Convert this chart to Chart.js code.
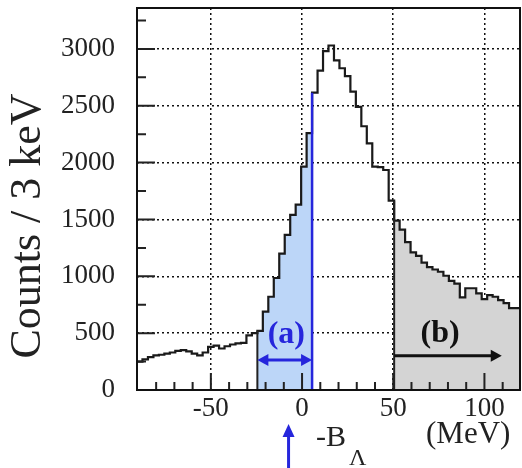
<!DOCTYPE html>
<html>
<head>
<meta charset="utf-8">
<script src="https://cdn.jsdelivr.net/npm/chart.js@4.4.0/dist/chart.umd.min.js"></script>
<style>
  html, body { margin: 0; padding: 0; background: #fff; }
  #box { width: 522px; height: 468px; }
</style>
</head>
<body>
<div id="box"><canvas id="hist" width="522" height="468"></canvas></div>
<script>
// histogram binning (MeV)
const binStart = -90.5;
const binWidth = 3;
// counts per bin
const counts = [
  250, 270, 290, 305, 310, 320, 330, 345, 350, 340,
  320, 305, 330, 380, 390, 365, 385, 400, 410, 415,
  480, 500, 520, 690, 820, 985, 1200, 1365, 1540, 1630,
  1965, 2260, 2615, 2810, 2980, 3030, 2900, 2830, 2760, 2625,
  2490, 2320, 2170, 1965, 1960, 1935, 1665, 1490, 1410, 1300,
  1210, 1180, 1120, 1080, 1060, 1040, 1005, 960, 935, 815,
  895, 895, 850, 800, 835, 820, 790, 765, 720, 720
];
const regionA = [-24.5, 5.5];   // window (a)
const regionB = [50.5, 119.5];  // window (b)
const xTicks = [-50, 0, 50, 100];
const yTicks = [0, 500, 1000, 1500, 2000, 2500, 3000];
const yMax = 3360;

const serif = 'Liberation Serif';
const blue = '#2626dc';

function binIndex(v) { return Math.round((v - binStart) / binWidth); }

// stepped points: left edge of each bin + closing right edge
function histPoints(from, to) {
  const pts = [];
  for (let i = from; i < to; i++) pts.push({ x: binStart + i * binWidth, y: counts[i] });
  pts.push({ x: binStart + to * binWidth, y: counts[to - 1] });
  return pts;
}

const aFrom = binIndex(regionA[0]), aTo = binIndex(regionA[1]);
const bFrom = binIndex(regionB[0]), bTo = binIndex(regionB[1]);

function arrow(ctx, x1, y1, x2, y2, both, color) {
  ctx.strokeStyle = color; ctx.fillStyle = color; ctx.lineWidth = 3;
  const ang = Math.atan2(y2 - y1, x2 - x1), L = 11, W = 6;
  const head = (px, py, a) => {
    ctx.beginPath();
    ctx.moveTo(px, py);
    ctx.lineTo(px - L * Math.cos(a) + W * Math.sin(a), py - L * Math.sin(a) - W * Math.cos(a));
    ctx.lineTo(px - L * Math.cos(a) - W * Math.sin(a), py - L * Math.sin(a) + W * Math.cos(a));
    ctx.closePath(); ctx.fill();
  };
  ctx.beginPath();
  ctx.moveTo(x1 + (both ? 8 * Math.cos(ang) : 0), y1 + (both ? 8 * Math.sin(ang) : 0));
  ctx.lineTo(x2 - 8 * Math.cos(ang), y2 - 8 * Math.sin(ang));
  ctx.stroke();
  head(x2, y2, ang);
  if (both) head(x1, y1, ang + Math.PI);
}

const decor = {
  id: 'decor',
  afterDraw(chart) {
    const { ctx, chartArea: a, scales: { x, y } } = chart;
    ctx.save();
    // inward ticks
    ctx.strokeStyle = '#222'; ctx.lineWidth = 2;
    ctx.beginPath();
    for (let v = -90; v <= 120; v += 10) {
      const px = x.getPixelForValue(v);
      if (px < a.left + 1 || px > a.right - 1) continue;
      const len = v % 50 === 0 ? 17 : 8;
      ctx.moveTo(px, a.bottom); ctx.lineTo(px, a.bottom - len);
    }
    for (let v = 250; v < yMax; v += 250) {
      const py = y.getPixelForValue(v);
      const len = v % 500 === 0 ? 18 : 9;
      ctx.moveTo(a.left, py); ctx.lineTo(a.left + len, py);
    }
    ctx.stroke();

    // window edges
    const y0 = y.getPixelForValue(0);
    ctx.lineWidth = 2; ctx.strokeStyle = '#222';
    ctx.beginPath();
    let px = x.getPixelForValue(regionA[0]);
    ctx.moveTo(px, y0); ctx.lineTo(px, y.getPixelForValue(Math.max(counts[aFrom], counts[aFrom - 1])));
    px = x.getPixelForValue(regionB[0]);
    ctx.moveTo(px, y0); ctx.lineTo(px, y.getPixelForValue(Math.max(counts[bFrom], counts[bFrom - 1])));
    ctx.stroke();
    ctx.strokeStyle = blue; ctx.lineWidth = 2.5;
    ctx.beginPath();
    px = x.getPixelForValue(regionA[1]);
    ctx.moveTo(px, y0); ctx.lineTo(px, y.getPixelForValue(Math.max(counts[aTo], counts[aTo - 1])));
    ctx.stroke();

    // frame
    ctx.strokeStyle = '#111'; ctx.lineWidth = 2;
    ctx.strokeRect(a.left, a.top, a.right - a.left, a.bottom - a.top);

    // window arrows and labels
    arrow(ctx, x.getPixelForValue(regionA[0]), y.getPixelForValue(264),
               x.getPixelForValue(regionA[1]), y.getPixelForValue(264), true, blue);
    arrow(ctx, x.getPixelForValue(regionB[0]), y.getPixelForValue(302),
               x.getPixelForValue(109.5), y.getPixelForValue(302), false, '#111');
    ctx.textAlign = 'center'; ctx.textBaseline = 'middle';
    ctx.font = 'bold 32px "' + serif + '"';
    ctx.fillStyle = blue;
    ctx.fillText('(a)', x.getPixelForValue(-8.6), y.getPixelForValue(490));
    ctx.fillStyle = '#111';
    ctx.fillText('(b)', x.getPixelForValue(75.7), y.getPixelForValue(495));

    // y title
    ctx.save();
    ctx.translate(28, 226);
    ctx.rotate(-Math.PI / 2);
    ctx.font = '44px "' + serif + '"';
    ctx.fillStyle = '#222';
    ctx.fillText('Counts / 3 keV', 0, 0);
    ctx.restore();

    // x title: -B_Lambda (MeV) and marker arrow
    ctx.fillStyle = '#222';
    ctx.textAlign = 'left'; ctx.textBaseline = 'alphabetic';
    ctx.font = '30px "' + serif + '"';
    ctx.fillText('-B', 316, 446);
    ctx.font = '24px "' + serif + '"';
    ctx.fillText('\u039B', 349, 465);
    ctx.font = '31px "' + serif + '"';
    ctx.fillText('(MeV)', 426, 443);
    const ax = x.getPixelForValue(-7.4);
    ctx.strokeStyle = blue; ctx.fillStyle = blue; ctx.lineWidth = 3;
    ctx.beginPath(); ctx.moveTo(ax, 468); ctx.lineTo(ax, 434); ctx.stroke();
    ctx.beginPath(); ctx.moveTo(ax, 424); ctx.lineTo(ax - 6, 437); ctx.lineTo(ax + 6, 437); ctx.closePath(); ctx.fill();
    ctx.restore();
  }
};

new Chart(document.getElementById('hist'), {
  type: 'line',
  data: {
    datasets: [
      {
        data: histPoints(0, counts.length),
        stepped: true,
        borderColor: '#1a1a1a',
        borderWidth: 2.2,
        pointRadius: 0,
        fill: false,
        order: 0
      },
      {
        data: histPoints(aFrom, aTo),
        stepped: true,
        borderWidth: 0,
        pointRadius: 0,
        backgroundColor: 'rgb(188, 214, 248)',
        fill: 'origin',
        order: 1
      },
      {
        data: histPoints(bFrom, bTo),
        stepped: true,
        borderWidth: 0,
        pointRadius: 0,
        backgroundColor: 'rgb(212, 212, 212)',
        fill: 'origin',
        order: 1
      }
    ]
  },
  options: {
    responsive: false,
    animation: false,
    layout: { padding: { top: 8, right: 2, left: 0, bottom: 0 } },
    plugins: { legend: { display: false }, tooltip: { enabled: false } },
    scales: {
      x: {
        type: 'linear',
        min: binStart,
        max: binStart + counts.length * binWidth,
        z: 1,
        grid: { color: '#111', lineWidth: 1.5, drawTicks: false },
        border: { display: false, dash: [2, 3] },
        ticks: { font: { family: serif, size: 27 }, color: '#222', padding: 3, callback: v => String(v) },
        afterBuildTicks: s => { s.ticks = xTicks.map(v => ({ value: v })); },
        afterFit: s => { s.height = 78; s.paddingLeft = 0; s.paddingRight = 0; }
      },
      y: {
        min: 0,
        max: yMax,
        z: 1,
        grid: { color: '#111', lineWidth: 1.5, drawTicks: false },
        border: { display: false, dash: [2, 3] },
        ticks: { font: { family: serif, size: 27 }, color: '#222', padding: 22, callback: v => String(v) },
        afterBuildTicks: s => { s.ticks = yTicks.map(v => ({ value: v })); },
        afterFit: s => { s.width = 137; s.paddingTop = 0; s.paddingBottom = 0; }
      }
    }
  },
  plugins: [decor]
});
</script>
</body>
</html>
